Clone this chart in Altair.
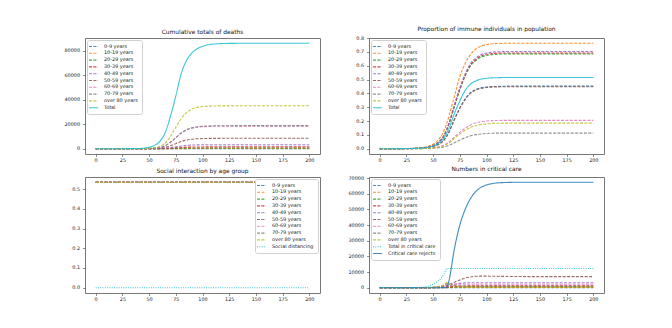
import altair as alt
import pandas as pd

AGE = ["0-9 years", "10-19 years", "20-29 years", "30-39 years", "40-49 years",
       "50-59 years", "60-69 years", "70-79 years", "over 80 years"]
TAB = ["#1f77b4", "#ff7f0e", "#2ca02c", "#d62728", "#9467bd",
       "#8c564b", "#e377c2", "#7f7f7f", "#bcbd22", "#17becf"]
X_TICKS = [0, 25, 50, 75, 100, 125, 150, 175, 200]

# ---------- panel 1: cumulative deaths ----------
DAYS = [0, 20, 30, 40, 45, 50, 55, 60, 65, 70, 75, 80, 85, 90, 95, 100, 105, 110, 120, 130, 150, 200]
D_0_9 = [0, 0, 0, 0, 0, 1, 2, 4, 8, 17, 29, 41, 50, 54, 57, 58, 59, 60, 60, 60, 60, 60]
D_10_19 = [0, 0, 0, 0, 1, 2, 4, 9, 20, 43, 73, 103, 124, 136, 143, 146, 148, 149, 150, 150, 150, 150]
D_20_29 = [0, 0, 0, 2, 3, 8, 17, 37, 82, 172, 290, 410, 495, 545, 572, 585, 592, 596, 599, 600, 600, 600]
D_30_39 = [0, 0, 1, 4, 8, 19, 43, 92, 205, 430, 730, 1030, 1240, 1360, 1430, 1465, 1480, 1490, 1498, 1500, 1500, 1500]
D_40_49 = [0, 1, 3, 8, 18, 42, 95, 200, 450, 950, 1600, 2270, 2720, 2990, 3140, 3220, 3260, 3280, 3295, 3300, 3300, 3300]
D_50_59 = [0, 3, 8, 20, 45, 110, 240, 520, 1150, 2450, 4150, 5850, 7000, 7700, 8100, 8300, 8400, 8450, 8490, 8500, 8500, 8500]
D_60_69 = [0, 5, 15, 40, 90, 220, 500, 1100, 2500, 5300, 8900, 12600, 15200, 16700, 17500, 17900, 18150, 18280, 18370, 18400, 18400, 18400]
D_70_79 = [0, 5, 15, 40, 90, 220, 500, 1100, 2500, 5300, 9000, 12800, 15500, 17000, 17900, 18300, 18550, 18680, 18770, 18800, 18800, 18800]
D_80 = [0, 10, 30, 70, 170, 400, 900, 1900, 4500, 10000, 17500, 24500, 29500, 32300, 33700, 34400, 34700, 34850, 34950, 35000, 35000, 35000]
D_TOTAL = [0, 30, 80, 200, 500, 1200, 2700, 6000, 13000, 26500, 43000, 61000, 72000, 78000, 81500, 83500, 84700, 85300, 85800, 85950, 86000, 86000]

# ---------- panel 2: proportion immune ----------
I_0_9 = [0, 0, 0.001, 0.004, 0.008, 0.016, 0.032, 0.062, 0.125, 0.215, 0.295, 0.36, 0.405, 0.428, 0.44, 0.446, 0.449, 0.45, 0.452, 0.452, 0.452, 0.452]
I_10_19 = [0, 0.001, 0.003, 0.009, 0.017, 0.033, 0.065, 0.125, 0.24, 0.38, 0.52, 0.615, 0.68, 0.72, 0.742, 0.753, 0.758, 0.76, 0.762, 0.762, 0.762, 0.762]
I_20_29 = [0, 0.001, 0.002, 0.006, 0.011, 0.022, 0.045, 0.09, 0.18, 0.305, 0.425, 0.525, 0.598, 0.638, 0.662, 0.674, 0.68, 0.683, 0.685, 0.685, 0.685, 0.685]
I_30_39 = [0, 0.001, 0.002, 0.006, 0.012, 0.023, 0.046, 0.092, 0.185, 0.31, 0.43, 0.53, 0.605, 0.645, 0.67, 0.682, 0.687, 0.69, 0.692, 0.692, 0.692, 0.692]
I_40_49 = [0, 0.001, 0.002, 0.006, 0.012, 0.024, 0.048, 0.095, 0.19, 0.32, 0.44, 0.54, 0.615, 0.655, 0.68, 0.692, 0.697, 0.7, 0.702, 0.702, 0.702, 0.702]
I_50_59 = [0, 0, 0.001, 0.004, 0.008, 0.016, 0.031, 0.06, 0.12, 0.21, 0.29, 0.355, 0.4, 0.424, 0.436, 0.442, 0.445, 0.447, 0.448, 0.448, 0.448, 0.448]
I_60_69 = [0, 0, 0.001, 0.002, 0.003, 0.007, 0.013, 0.025, 0.05, 0.085, 0.118, 0.148, 0.172, 0.188, 0.196, 0.2, 0.203, 0.204, 0.205, 0.205, 0.205, 0.205]
I_70_79 = [0, 0, 0, 0.001, 0.002, 0.004, 0.007, 0.013, 0.025, 0.043, 0.062, 0.079, 0.093, 0.102, 0.107, 0.11, 0.112, 0.113, 0.113, 0.113, 0.113, 0.113]
I_80 = [0, 0, 0, 0.001, 0.003, 0.006, 0.012, 0.022, 0.043, 0.075, 0.106, 0.133, 0.154, 0.168, 0.176, 0.18, 0.183, 0.184, 0.185, 0.185, 0.185, 0.185]
I_TOTAL = [0, 0.001, 0.002, 0.005, 0.01, 0.02, 0.04, 0.075, 0.15, 0.255, 0.345, 0.42, 0.467, 0.49, 0.503, 0.509, 0.512, 0.513, 0.515, 0.515, 0.515, 0.515]

# ---------- panel 3: social interaction ----------
S_DAYS = [0, 200]
S_0_9 = [0.535, 0.535]
S_10_19 = [0.535, 0.535]
S_20_29 = [0.535, 0.535]
S_30_39 = [0.535, 0.535]
S_40_49 = [0.535, 0.535]
S_50_59 = [0.535, 0.535]
S_60_69 = [0.535, 0.535]
S_70_79 = [0.535, 0.535]
S_80 = [0.535, 0.535]
S_DISTANCING = [0.0, 0.0]

# ---------- panel 4: critical care ----------
C_DAYS = [0, 20, 30, 40, 45, 50, 55, 60, 63, 65, 70, 75, 80, 85, 90, 95, 100, 105, 110, 120, 130, 150, 200]
C_0_9 = [0, 0, 0, 1, 2, 4, 8, 16, 25, 30, 45, 55, 60, 60, 60, 60, 60, 60, 60, 60, 60, 60, 60]
C_10_19 = [0, 0, 0, 2, 5, 12, 28, 60, 100, 120, 180, 230, 250, 250, 250, 250, 250, 250, 250, 250, 250, 250, 250]
C_20_29 = [0, 0, 1, 5, 12, 30, 70, 150, 250, 300, 430, 540, 590, 600, 600, 600, 600, 600, 600, 600, 600, 600, 600]
C_30_39 = [0, 0, 2, 10, 25, 60, 140, 300, 480, 560, 850, 1050, 1150, 1200, 1200, 1200, 1200, 1200, 1200, 1200, 1200, 1200, 1200]
C_40_49 = [0, 0, 3, 20, 50, 120, 280, 600, 1000, 1300, 2200, 2800, 3100, 3200, 3200, 3200, 3200, 3200, 3200, 3200, 3200, 3200, 3200]
C_50_59 = [0, 0, 5, 30, 80, 200, 450, 900, 1400, 1900, 3500, 5000, 6200, 6900, 7300, 7400, 7400, 7350, 7300, 7200, 7150, 7100, 7100]
C_60_69 = [0, 0, 5, 40, 100, 250, 600, 1300, 2300, 2300, 2250, 2200, 2200, 2200, 2200, 2200, 2200, 2200, 2200, 2200, 2200, 2200, 2200]
C_70_79 = [0, 0, 5, 40, 100, 270, 650, 1500, 2700, 2300, 1500, 1100, 950, 900, 900, 900, 900, 900, 900, 900, 900, 900, 900]
C_80 = [0, 0, 5, 50, 120, 320, 800, 1900, 3400, 2600, 1200, 600, 400, 320, 300, 300, 300, 300, 300, 300, 300, 300, 300]
C_TOTAL = [0, 20, 60, 300, 900, 2200, 4500, 8500, 12300, 12300, 12300, 12300, 12300, 12300, 12300, 12300, 12300, 12300, 12300, 12300, 12300, 12300, 12300]
C_REJECTS = [0, 0, 0, 0, 0, 0, 0, 0, 0, 5000, 25000, 40000, 50000, 57000, 61500, 64200, 65700, 66500, 67000, 67300, 67400, 67400, 67400]

DASH = [3, 1.4]
DOT = [1, 1.3]
SOLID = [1, 0]
FONT = "DejaVu Sans"


def panel(title, days, names, values, colors, dashes, widths, ydom, yvals, yfmt, orient):
    rows = []
    for k, (name, vals) in enumerate(zip(names, values)):
        for d, v in zip(days, vals):
            rows.append({"day": d, "value": v, "series": name, "k": k})
    df = pd.DataFrame(rows)
    leg = alt.Legend(orient=orient, title=None, offset=2)
    return alt.Chart(df, title=alt.Title(title)).mark_line(
        interpolate="monotone", clip=True, opacity=0.85
    ).encode(
        x=alt.X("day:Q", scale=alt.Scale(domain=[-10, 210], nice=False, zero=False),
                axis=alt.Axis(values=X_TICKS, title=None, labelPadding=1)),
        y=alt.Y("value:Q", scale=alt.Scale(domain=ydom, nice=False, zero=False),
                axis=alt.Axis(values=yvals, format=yfmt, title=None, labelPadding=3)),
        color=alt.Color("series:N", scale=alt.Scale(domain=names, range=colors), legend=leg),
        strokeDash=alt.StrokeDash("series:N", scale=alt.Scale(domain=names, range=dashes), legend=leg),
        strokeWidth=alt.StrokeWidth("series:N", scale=alt.Scale(domain=names, range=widths), legend=leg),
    ).properties(width=235, height=116)


p1 = panel("Cumulative totals of deaths", DAYS, AGE + ["Total"],
           [D_0_9, D_10_19, D_20_29, D_30_39, D_40_49, D_50_59, D_60_69, D_70_79, D_80, D_TOTAL],
           TAB, [DASH] * 9 + [SOLID], [1.1] * 9 + [2.8],
           [-4300, 90300], [0, 20000, 40000, 60000, 80000], "d", "top-left")

p2 = panel("Proportion of immune individuals in population", DAYS, AGE + ["Total"],
           [I_0_9, I_10_19, I_20_29, I_30_39, I_40_49, I_50_59, I_60_69, I_70_79, I_80, I_TOTAL],
           TAB, [DASH] * 9 + [SOLID], [1.1] * 9 + [2.8],
           [-0.038, 0.8], [0, 0.1, 0.2, 0.3, 0.4, 0.5, 0.6, 0.7, 0.8], ".1f", "top-left")

p3 = panel("Social interaction by age group", S_DAYS, AGE + ["Social distancing"],
           [S_0_9, S_10_19, S_20_29, S_30_39, S_40_49, S_50_59, S_60_69, S_70_79, S_80, S_DISTANCING],
           TAB, [DASH] * 9 + [DOT], [1.1] * 10,
           [-0.027, 0.562], [0, 0.1, 0.2, 0.3, 0.4, 0.5], ".1f", "top-right")

p4 = panel("Numbers in critical care", C_DAYS, AGE + ["Total in critical care", "Critical care rejects"],
           [C_0_9, C_10_19, C_20_29, C_30_39, C_40_49, C_50_59, C_60_69, C_70_79, C_80, C_TOTAL, C_REJECTS],
           TAB + ["#1f77b4"], [DASH] * 9 + [DOT, SOLID], [1.1] * 10 + [1.5],
           [-3370, 70770], [0, 10000, 20000, 30000, 40000, 50000, 60000, 70000], "d", "top-left")

chart = alt.concat(p1, p2, p3, p4, columns=2,
                   spacing=alt.RowColnumber(row=2, column=25)).resolve_scale(
    color="independent", strokeDash="independent", strokeWidth="independent"
).resolve_legend(
    color="independent", strokeDash="independent", strokeWidth="independent"
).properties(
    padding={"left": 54, "top": 17, "right": 5, "bottom": 5}
).configure_view(
    stroke="#777", strokeWidth=1
).configure_axis(
    labelFont=FONT, labelFontSize=4.9, labelColor="#222", tickColor="#444",
    tickSize=2.5, tickWidth=0.6, domain=False, grid=False
).configure_axisY(
    minExtent=22, maxExtent=22
).configure_legend(
    labelFont=FONT, labelFontSize=4.9, labelColor="#222", fillColor="white",
    strokeColor="#d0d0d0", padding=4, cornerRadius=2, rowPadding=0.8,
    symbolSize=9, symbolType="M-3,0H3", labelOffset=8, labelLimit=200
).configure_title(
    font=FONT, fontSize=5.9, fontWeight="normal", color="#111", offset=3, frame="group"
)

chart.save("out.html", embed_options={"renderer": "svg", "actions": False})
